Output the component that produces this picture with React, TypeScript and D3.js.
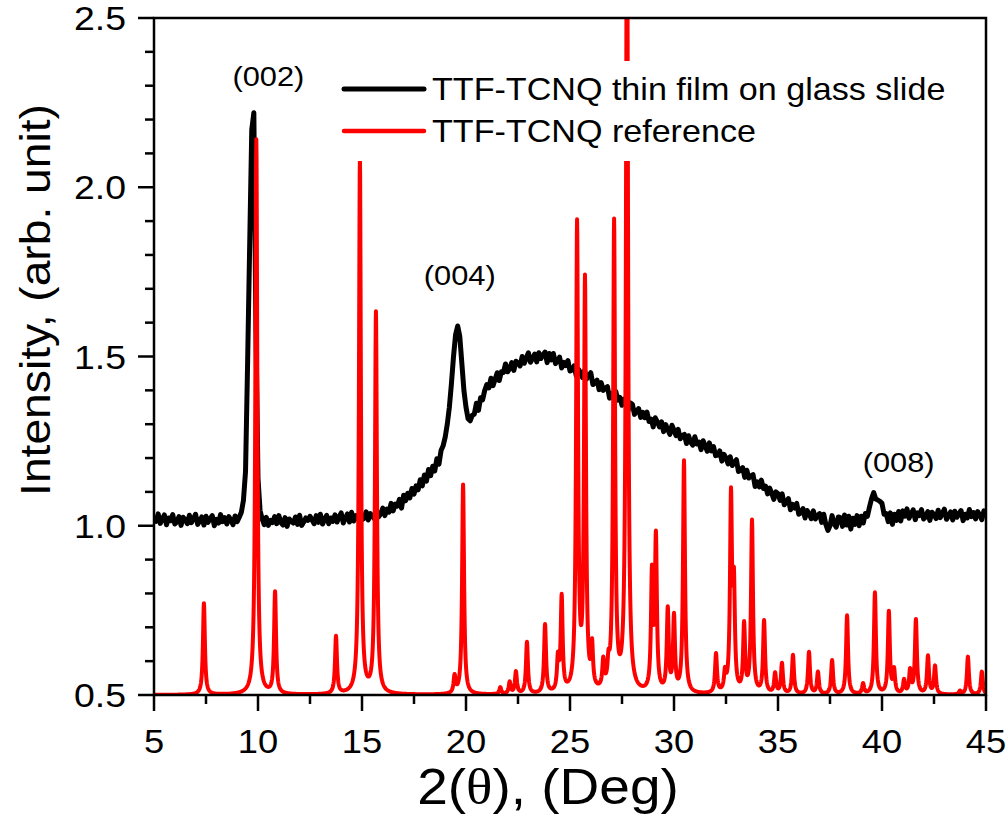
import React from 'react';
import * as d3 from 'd3';

// ---------- data ----------
const xMajorTicks = [5, 10, 15, 20, 25, 30, 35, 40, 45];
const xMinorTicks = [7.5, 12.5, 17.5, 22.5, 27.5, 32.5, 37.5, 42.5];
const yMajorTicks = [0.5, 1.0, 1.5, 2.0, 2.5];
const yTickLabels = ['0.5', '1.0', '1.5', '2.0', '2.5'];
const yMinorTicks = [0.6, 0.7, 0.8, 0.9, 1.1, 1.2, 1.3, 1.4, 1.6, 1.7, 1.8, 1.9, 2.1, 2.2, 2.3, 2.4];

// thin film scan: start 5.0 deg, step 0.1 deg
const FILM_START = 5;
const FILM_STEP = 0.1;
const filmIntensity = [
  1.029, 1.013, 1.035, 1.007, 1.020, 1.032, 1.003, 1.023, 1.015, 1.033,
  1.005, 1.011, 1.027, 1.001, 1.025, 1.018, 1.006, 1.031, 1.009, 1.022,
  1.034, 1.004, 1.014, 1.026, 1.002, 1.028, 1.010, 1.021, 1.030, 1.000,
  1.019, 1.008, 1.033, 1.012, 1.024, 1.005, 1.027, 1.016, 1.003, 1.029,
  1.012, 1.025, 1.040, 1.075, 1.160, 1.480, 1.830, 2.170, 2.220, 1.580,
  1.140, 1.045, 1.020, 1.003, 1.025, 1.001, 1.016, 1.009, 1.027, 1.006,
  1.030, 1.010, 1.002, 1.024, 0.998, 1.020, 1.013, 1.008, 1.026, 1.004,
  1.031, 1.001, 1.011, 1.023, 1.016, 1.028, 1.017, 1.006, 1.030, 1.010,
  1.034, 1.005, 1.018, 1.031, 1.006, 1.023, 1.013, 1.032, 1.011, 1.027,
  1.038, 1.008, 1.022, 1.035, 1.011, 1.040, 1.014, 1.030, 1.021, 1.039,
  1.018, 1.022, 1.041, 1.017, 1.036, 1.028, 1.020, 1.043, 1.026, 1.035,
  1.052, 1.030, 1.049, 1.040, 1.066, 1.044, 1.064, 1.058, 1.078, 1.052,
  1.090, 1.074, 1.096, 1.082, 1.110, 1.093, 1.118, 1.106, 1.136, 1.118,
  1.150, 1.132, 1.166, 1.148, 1.176, 1.162, 1.198, 1.182, 1.222, 1.236,
  1.262, 1.300, 1.350, 1.420, 1.500, 1.565, 1.590, 1.560, 1.480, 1.400,
  1.350, 1.316, 1.310, 1.326, 1.330, 1.362, 1.341, 1.378, 1.372, 1.400,
  1.417, 1.407, 1.436, 1.414, 1.433, 1.452, 1.429, 1.455, 1.453, 1.478,
  1.455, 1.464, 1.482, 1.459, 1.486, 1.481, 1.472, 1.500, 1.480, 1.496,
  1.511, 1.483, 1.494, 1.507, 1.484, 1.511, 1.494, 1.505, 1.513, 1.482,
  1.509, 1.490, 1.509, 1.479, 1.489, 1.498, 1.466, 1.483, 1.473, 1.488,
  1.457, 1.460, 1.472, 1.443, 1.463, 1.453, 1.438, 1.459, 1.434, 1.443,
  1.452, 1.417, 1.423, 1.430, 1.402, 1.423, 1.400, 1.407, 1.411, 1.377,
  1.391, 1.376, 1.397, 1.371, 1.379, 1.356, 1.374, 1.359, 1.341, 1.363,
  1.359, 1.329, 1.338, 1.346, 1.320, 1.335, 1.319, 1.336, 1.308, 1.315,
  1.292, 1.319, 1.307, 1.292, 1.307, 1.278, 1.299, 1.284, 1.270, 1.297,
  1.282, 1.266, 1.285, 1.257, 1.266, 1.270, 1.243, 1.266, 1.247, 1.238,
  1.263, 1.242, 1.247, 1.225, 1.251, 1.236, 1.220, 1.245, 1.221, 1.234,
  1.207, 1.209, 1.221, 1.191, 1.211, 1.200, 1.183, 1.204, 1.178, 1.187,
  1.195, 1.160, 1.165, 1.172, 1.143, 1.164, 1.141, 1.147, 1.151, 1.116,
  1.130, 1.115, 1.135, 1.110, 1.117, 1.094, 1.111, 1.096, 1.078, 1.100,
  1.095, 1.075, 1.094, 1.062, 1.071, 1.080, 1.047, 1.063, 1.052, 1.066,
  1.034, 1.038, 1.051, 1.023, 1.045, 1.035, 1.021, 1.044, 1.020, 1.030,
  1.036, 1.010, 1.034, 1.004, 0.986, 1.000, 1.030, 1.006, 0.996, 1.026,
  1.024, 0.998, 1.032, 1.002, 1.028, 0.990, 1.022, 1.004, 1.030, 1.000,
  1.028, 1.008, 1.036, 1.028, 1.056, 1.080, 1.098, 1.079, 1.076, 1.072,
  1.066, 1.034, 1.036, 1.012, 1.038, 1.004, 1.034, 1.016, 1.042, 1.014,
  1.044, 1.028, 1.050, 1.022, 1.035, 1.047, 1.018, 1.038, 1.030, 1.048,
  1.020, 1.026, 1.042, 1.016, 1.040, 1.033, 1.021, 1.046, 1.024, 1.037,
  1.049, 1.019, 1.029, 1.041, 1.017, 1.043, 1.025, 1.036, 1.045, 1.015,
  1.034, 1.023, 1.048, 1.027, 1.039, 1.020, 1.042, 1.031, 1.018, 1.044,
  1.036,
];

// reference pattern: peak positions (deg) and apex intensities
const refBaseline = 0.5;
const refPeakPos = [
  7.4, 9.92, 10.82, 13.75, 14.9, 15.67, 19.45, 19.86, 21.65, 22.1, 22.4, 22.93,
  23.8, 24.42, 24.6, 25.34, 25.72, 26.06, 26.6, 26.85, 27.12, 27.74, 28.94, 29.13,
  29.7, 30.0, 30.48, 32.02, 32.45, 32.74, 32.88, 33.37, 33.75, 34.33, 34.86, 35.19,
  35.72, 36.49, 36.92, 37.6, 38.32, 39.09, 39.66, 40.33, 40.58, 41.06, 41.35, 41.63,
  42.21, 42.55, 43.75, 44.13, 44.8,
];
const refPeakHeight = [
  0.77, 2.14, 0.80, 0.67, 2.08, 1.625, 0.55, 1.12, 0.52, 0.535, 0.565, 0.653,
  0.703, 0.594, 0.777, 1.874, 1.705, 0.62, 0.58, 0.56, 1.88, 3.0, 0.84, 0.949,
  0.742, 0.72, 1.185, 0.615, 0.553, 1.067, 0.795, 0.698, 1.008, 0.713, 0.559, 0.589,
  0.615, 0.624, 0.565, 0.60, 0.733, 0.53, 0.80, 0.742, 0.568, 0.54, 0.568, 0.719,
  0.612, 0.583, 0.51, 0.612, 0.568,
];
const REF_FWHM = 0.11;

const legendLabels = ['TTF-TCNQ thin film on glass slide', 'TTF-TCNQ reference'];
const legendColors = ['#000000', '#ff0000'];
const peakLabels = [
  { text: '(002)', x: 10.5, y: 2.30 },
  { text: '(004)', x: 19.7, y: 1.71 },
  { text: '(008)', x: 40.8, y: 1.16 },
];

// ---------- layout ----------
const W = 1008, H = 818;
const L = 154, R = 986, T = 18, B = 695;
const FONT = "'Liberation Sans', Arial, Helvetica, sans-serif";
const SX = 1.1;

function Txt({ x, y, size, anchor = 'start', rotate = 0, children }: any) {
  return (
    <g transform={`translate(${x},${y}) rotate(${rotate}) scale(${SX},1)`}>
      <text textAnchor={anchor} fontSize={size} fontFamily={FONT} fill="#000">
        {children}
      </text>
    </g>
  );
}

export default function App() {
  const x = d3.scaleLinear().domain([5, 45]).range([L, R]);
  const y = d3.scaleLinear().domain([0.5, 2.5]).range([B, T]);

  const film: [number, number][] = filmIntensity.map((v, i) => [FILM_START + i * FILM_STEP, v]);

  const refPts: [number, number][] = [];
  const hw = REF_FWHM / 2;
  for (let a = 5; a <= 45.0001; a += 0.01) {
    let s = refBaseline;
    for (let k = 0; k < refPeakPos.length; k++) {
      const d = (a - refPeakPos[k]) / hw;
      s += (refPeakHeight[k] - refBaseline) / (1 + d * d);
    }
    refPts.push([a, s]);
  }

  const line = d3.line<[number, number]>().x((d) => x(d[0])).y((d) => y(d[1]));

  const axisW = 2.5;
  const majLen = 16, minLen = 9;

  return (
    <svg width={W} height={H} style={{ position: 'absolute', left: 0, top: 0, background: '#fff' }}>
      <defs>
        <clipPath id="plot">
          <rect x={L} y={T} width={R - L} height={B - T} />
        </clipPath>
      </defs>
      <rect x={0} y={0} width={W} height={H} fill="#fff" />
      <g clipPath="url(#plot)">
        <path d={line(film) || ''} fill="none" stroke="#000" strokeWidth={5} strokeLinejoin="round" />
        <path d={line(refPts) || ''} fill="none" stroke="#ff0000" strokeWidth={4} strokeLinejoin="round" />
      </g>

      {/* legend */}
      <rect x={335} y={61} width={620} height={100} fill="#fff" />
      {legendLabels.map((lab, i) => (
        <g key={lab}>
          <line x1={344} x2={424} y1={89 + i * 42} y2={89 + i * 42} stroke={legendColors[i]} strokeWidth={i === 0 ? 5 : 4.5} strokeLinecap="round" />
          <Txt x={432} y={100 + i * 42} size={31}>{lab}</Txt>
        </g>
      ))}

      {/* frame */}
      <rect x={L} y={T} width={R - L} height={B - T} fill="none" stroke="#000" strokeWidth={axisW} />

      {/* x ticks */}
      {xMajorTicks.map((t) => (
        <g key={'xm' + t}>
          <line x1={x(t)} x2={x(t)} y1={B} y2={B + majLen} stroke="#000" strokeWidth={axisW} />
          <Txt x={x(t)} y={753} size={33} anchor="middle">{String(t)}</Txt>
        </g>
      ))}
      {xMinorTicks.map((t) => (
        <line key={'xn' + t} x1={x(t)} x2={x(t)} y1={B} y2={B + minLen} stroke="#000" strokeWidth={axisW} />
      ))}

      {/* y ticks */}
      {yMajorTicks.map((t, i) => (
        <g key={'ym' + t}>
          <line x1={L - majLen} x2={L} y1={y(t)} y2={y(t)} stroke="#000" strokeWidth={axisW} />
          <Txt x={126} y={y(t) + 12} size={34} anchor="end">{yTickLabels[i]}</Txt>
        </g>
      ))}
      {yMinorTicks.map((t) => (
        <line key={'yn' + t} x1={L - minLen} x2={L} y1={y(t)} y2={y(t)} stroke="#000" strokeWidth={axisW} />
      ))}

      {/* peak labels */}
      {peakLabels.map((p) => (
        <Txt key={p.text} x={x(p.x)} y={y(p.y)} size={28} anchor="middle">{p.text}</Txt>
      ))}

      {/* axis titles */}
      <Txt x={548} y={804} size={50} anchor="middle">
        2(<tspan fontFamily="'Liberation Serif', 'Times New Roman', serif">θ</tspan>), (Deg)
      </Txt>
      <Txt x={50} y={300} size={42} anchor="middle" rotate={-90}>Intensity, (arb. unit)</Txt>
    </svg>
  );
}
